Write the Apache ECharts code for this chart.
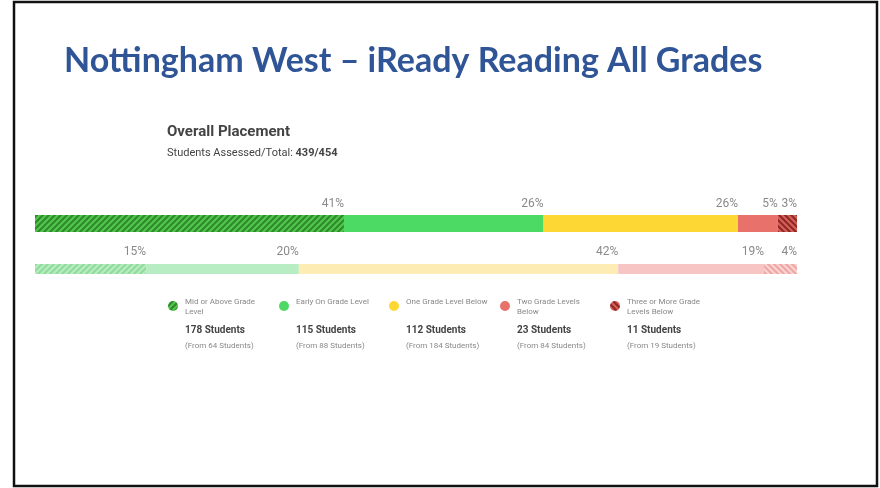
<!DOCTYPE html>
<html><head><meta charset="utf-8">
<script src="https://cdn.jsdelivr.net/npm/echarts@6/dist/echarts.min.js"></script>
<style>html,body{margin:0;padding:0;background:#fff}#c{width:880px;height:488px}</style>
</head><body><div id="c"></div>
<script>
// ---- data ----
const levels = ['Mid or Above Grade\nLevel', 'Early On Grade Level', 'One Grade Level Below', 'Two Grade Levels\nBelow', 'Three or More Grade\nLevels Below'];
const currentCounts = [178, 115, 112, 23, 11];
const priorCounts = [64, 88, 184, 84, 19];
const currentPctLabels = ['41%', '26%', '26%', '5%', '3%'];
const priorPctLabels = ['15%', '20%', '42%', '19%', '4%'];
const assessed = '439/454';

function pattern(bg, fg, dir) {
  const s = 6, c = document.createElement('canvas');
  c.width = s; c.height = s;
  const g = c.getContext('2d');
  g.fillStyle = bg; g.fillRect(0, 0, s, s);
  g.strokeStyle = fg; g.lineWidth = 2.2;
  g.beginPath();
  if (dir === '/') {
    g.moveTo(-1, 1); g.lineTo(1, -1);
    g.moveTo(0, s); g.lineTo(s, 0);
    g.moveTo(s - 1, s + 1); g.lineTo(s + 1, s - 1);
  } else {
    g.moveTo(-1, s - 1); g.lineTo(1, s + 1);
    g.moveTo(0, 0); g.lineTo(s, s);
    g.moveTo(s - 1, -1); g.lineTo(s + 1, 1);
  }
  g.stroke();
  return { image: c, repeat: 'repeat' };
}
const topColors = [pattern('#52c84f', '#2f8a2c', '/'), '#4cd964', '#fdd835', '#e8716b', pattern('#d9605a', '#8e2a24', '\\')];
const botColors = [pattern('#b9ecc2', '#8fdc9b', '/'), '#b8ecc3', '#fdedb5', '#f7c6c4', pattern('#f9d4d2', '#eea8a4', '\\')];
const legendColors = [pattern('#52c84f', '#2f8a2c', '/'), '#4cd964', '#fdd835', '#e8716b', pattern('#d9605a', '#8e2a24', '\\')];

const total = currentCounts.reduce((a, b) => a + b, 0);
const series = [];
levels.forEach((name, i) => {
  series.push({
    type: 'bar', stack: 'top', xAxisIndex: 0, yAxisIndex: 0, barWidth: 17,
    data: [currentCounts[i]], itemStyle: { color: topColors[i] }, silent: true,
    label: { show: true, position: ['100%', -5], align: 'right', verticalAlign: 'bottom',
      formatter: currentPctLabels[i], color: '#8a8a8a', fontSize: 12, fontFamily: 'Roboto' }
  });
  series.push({
    type: 'bar', stack: 'bot', xAxisIndex: 1, yAxisIndex: 1, barWidth: 10,
    data: [priorCounts[i]], itemStyle: { color: botColors[i] }, silent: true,
    label: { show: true, position: ['100%', -6], align: 'right', verticalAlign: 'bottom',
      formatter: priorPctLabels[i], color: '#8a8a8a', fontSize: 12, fontFamily: 'Roboto' }
  });
});

const graphic = [
  { type: 'rect', shape: { x: 14, y: 2, width: 863, height: 484 }, style: { fill: 'none', stroke: '#111', lineWidth: 2.5 }, silent: true },
  { type: 'text', x: 64, y: 61, style: { text: 'Nottingham West – iReady Reading All Grades', font: 'bold 34px Lato', fill: '#2f5597', textVerticalAlign: 'middle' } },
  { type: 'text', x: 167, y: 132, style: { text: 'Overall Placement', font: 'bold 15px Roboto', fill: '#444', textVerticalAlign: 'middle' } },
  { type: 'text', x: 167, y: 153, style: { rich: { a: { font: '11px Roboto', fill: '#444' }, b: { font: 'bold 11px Roboto', fill: '#444' } }, text: '{a|Students Assessed/Total: }{b|' + assessed + '}', textVerticalAlign: 'middle' } }
];
const legX = [173, 284, 394, 505, 615];
levels.forEach((name, i) => {
  graphic.push({ type: 'circle', shape: { cx: legX[i], cy: 306, r: 5 }, style: { fill: legendColors[i] } });
  graphic.push({ type: 'text', x: legX[i] + 12, y: 297, style: { text: name, font: '8px Roboto', fill: '#888', lineHeight: 10 } });
  graphic.push({ type: 'text', x: legX[i] + 12, y: 330, style: { text: currentCounts[i] + ' Students', font: 'bold 10px Roboto', fill: '#444', textVerticalAlign: 'middle' } });
  graphic.push({ type: 'text', x: legX[i] + 12, y: 346, style: { text: '(From ' + priorCounts[i] + ' Students)', font: '8px Roboto', fill: '#888', textVerticalAlign: 'middle' } });
});

const chart = echarts.init(document.getElementById('c'), null, { renderer: 'canvas' });
chart.setOption({
  animation: false,
  grid: [
    { left: 35, width: 762, top: 215, height: 17 },
    { left: 35, width: 762, top: 264, height: 10 }
  ],
  xAxis: [
    { type: 'value', gridIndex: 0, min: 0, max: total, show: false },
    { type: 'value', gridIndex: 1, min: 0, max: total, show: false }
  ],
  yAxis: [
    { type: 'category', gridIndex: 0, data: ['Current'], show: false },
    { type: 'category', gridIndex: 1, data: ['Prior'], show: false }
  ],
  series: series,
  graphic: graphic
});
</script></body></html>
